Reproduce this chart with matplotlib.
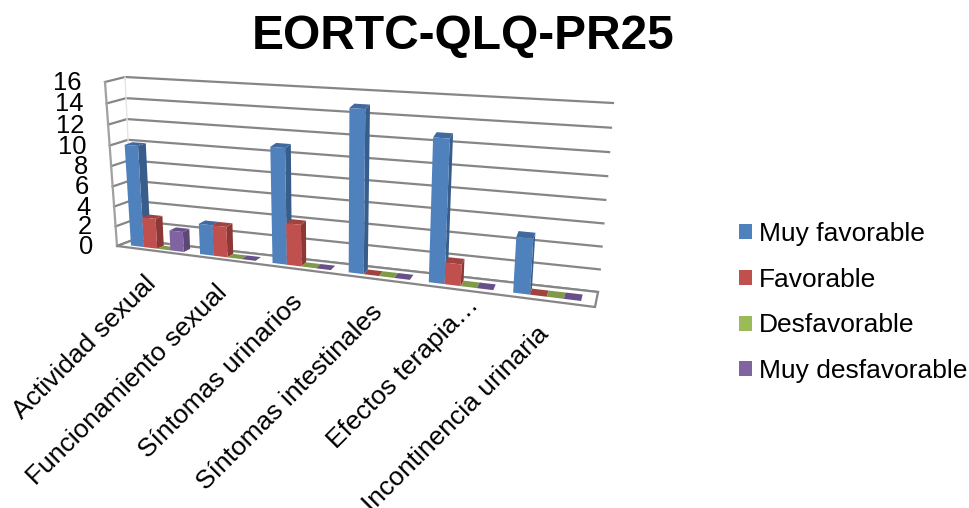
import numpy as np
import matplotlib
matplotlib.use("Agg")
import matplotlib.pyplot as plt
from matplotlib.patches import Polygon, Patch

plt.rcParams['font.family'] = ['Liberation Sans', 'DejaVu Sans']

categories = ["Actividad sexual", "Funcionamiento sexual", "Síntomas urinarios",
              "Síntomas intestinales", "Efectos terapia…", "Incontinencia urinaria"]
series = ["Muy favorable", "Favorable", "Desfavorable", "Muy desfavorable"]
muy_favorable = [10, 3, 11, 15, 13, 5]
favorable = [3, 3, 4, 0, 2, 0]
desfavorable = [0, 0, 0, 0, 0, 0]
muy_desfavorable = [2, 0, 0, 0, 0, 0]
ticks = [0, 2, 4, 6, 8, 10, 12, 14, 16]

front_col = ["#4F81BD", "#C0504D", "#9BBB59", "#8064A2"]
side_col = ["#385D8A", "#8C3836", "#71893F", "#5C4776"]
top_col = ["#41699C", "#A04340", "#7F9A48", "#67508A"]

# pixel corners of the chart box: bottom left, bottom right, top right, top left
back_quad = [(133, 240), (598, 292), (613, 103), (125, 77)]
front_quad = [(117, 246), (595, 307), (611, 118), (105, 82)]


def homography(quad):
    src = [(0, 0), (6, 0), (6, 16), (0, 16)]
    a = []
    b = []
    for (x, z), (u, v) in zip(src, quad):
        a.append([x, z, 1, 0, 0, 0, -u * x, -u * z])
        a.append([0, 0, 0, x, z, 1, -v * x, -v * z])
        b += [u, v]
    return np.append(np.linalg.solve(np.array(a, float), np.array(b, float)), 1).reshape(3, 3)


H_back = homography(back_quad)
H_front = homography(front_quad)


# x in categories, d = depth (0 front, 1 back), z = value
def proj(x, d, z):
    pf = H_front @ [x, z, 1]
    pb = H_back @ [x, z, 1]
    pf = pf[:2] / pf[2]
    pb = pb[:2] / pb[2]
    return tuple(pf + (pb - pf) * d)


fig = plt.figure(figsize=(9.7, 5.08), dpi=100)
ax = fig.add_axes([0, 0, 1, 1])
ax.set_xlim(0, 970)
ax.set_ylim(508, 0)
ax.axis("off")

grid = "#868686"
# walls and floor
for t in ticks:
    ax.plot(*zip(proj(0, 0, t), proj(0, 1, t), proj(6, 1, t)), color=grid, lw=1.6, zorder=1)
ax.plot(*zip(proj(0, 0, 0), proj(0, 0, 16)), color="#A0A0A0", lw=1.6, zorder=1)
ax.plot(*zip(proj(0, 1, 0), proj(0, 1, 16)), color="#E4E4E4", lw=1.0, zorder=1)
ax.add_patch(Polygon([proj(0, 0, 0), proj(6, 0, 0), proj(6, 1, 0), proj(0, 1, 0)],
                     facecolor="white", edgecolor=grid, lw=1.6, zorder=1.5))

# bars
bar_w = 0.19
start = 0.14
d0, d1 = 0.28, 0.72
zo = 2
all_vals = [muy_favorable, favorable, desfavorable, muy_desfavorable]
for c in range(len(categories)):
    for s, vals in enumerate(all_vals):
        x0 = c * 0.988 + start + s * bar_w
        x1 = x0 + bar_w
        h = vals[c]
        ax.add_patch(Polygon([proj(x1, d0, 0), proj(x1, d1, 0), proj(x1, d1, h), proj(x1, d0, h)],
                             facecolor=side_col[s], edgecolor="none", zorder=zo))
        ax.add_patch(Polygon([proj(x0, d0, h), proj(x1, d0, h), proj(x1, d1, h), proj(x0, d1, h)],
                             facecolor=top_col[s], edgecolor="none", zorder=zo))
        ax.add_patch(Polygon([proj(x0, d0, 0), proj(x1, d0, 0), proj(x1, d0, h), proj(x0, d0, h)],
                             facecolor=front_col[s], edgecolor="none", zorder=zo))
        zo += 1

# value labels
for t in ticks:
    p = proj(0, 0, t)
    ax.text(p[0] - 23.5, p[1] + 1, str(t), ha="right", va="center", fontsize=18.4, color="black")

# category labels
for c, name in enumerate(categories):
    p = proj(c + 0.5, 0, 0)
    dx, dy = -8, 21
    if c == 4:
        dx, dy = 5, 3
    if c == 5:
        dx, dy = -13, 21
    ax.text(p[0] + dx, p[1] + dy, name, rotation=45, rotation_mode="anchor", ha="right", va="top",
            fontsize=19, color="black")

ax.text(463, 37, "EORTC-QLQ-PR25", ha="center", va="center", fontsize=34.5, fontweight="bold")

handles = [Patch(facecolor=col, label=name) for col, name in zip(front_col, series)]
ax.legend(handles=handles, loc="center left", bbox_to_anchor=(739, 302.5), bbox_transform=ax.transData,
          frameon=False, fontsize=19, handlelength=0.5, handleheight=0.5, handletextpad=0.27,
          labelspacing=0.827, borderpad=0, borderaxespad=0)

fig.savefig("out.png", dpi=100)
